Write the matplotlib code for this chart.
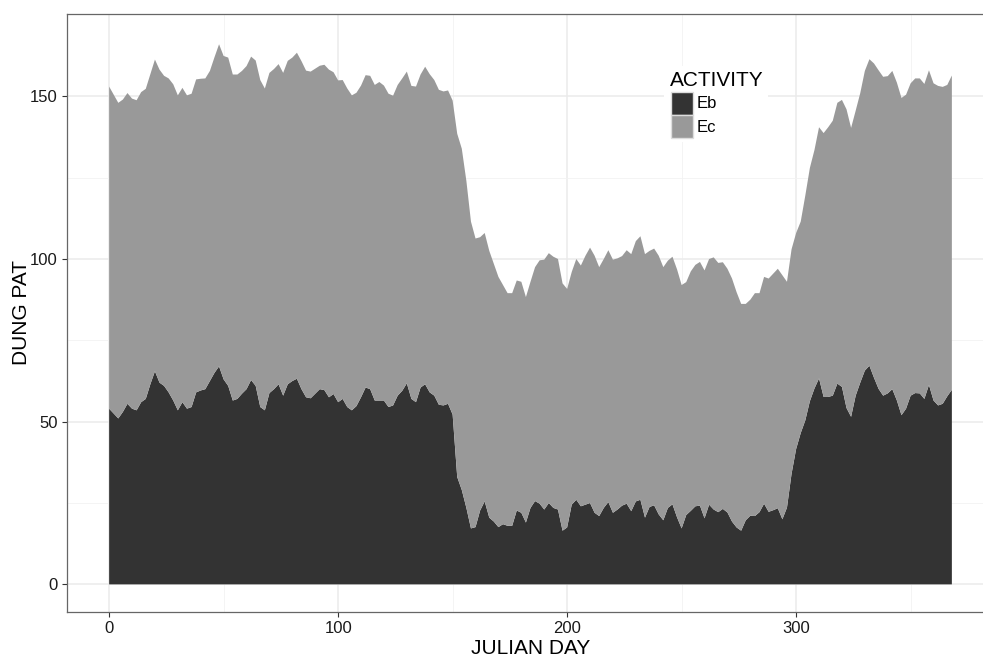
import numpy as np
import matplotlib
matplotlib.use("Agg")
import matplotlib.pyplot as plt
from matplotlib.patches import Rectangle

plt.rcParams['font.family'] = ['Liberation Sans', 'DejaVu Sans']

# ---------------- data ----------------
days = list(range(0, 369, 2))

eb = [54, 52.5, 51, 53, 55.5, 54, 53.5, 56, 57, 61.5,
      65.5, 62, 61, 59, 56.5, 53.5, 56, 54, 54.5, 59,
      59.6, 60, 62.5, 65, 67, 63, 61, 56.5, 57, 58.6,
      60, 62.8, 61, 54.5, 53.5, 58.8, 60, 61.5, 58, 61.5,
      62.5, 63.2, 60, 57.5, 57.2, 58.6, 60, 59.7, 57.5, 58.5,
      56, 57, 54.5, 53.5, 54.8, 57.5, 60.5, 60, 56.5, 56.5,
      56.5, 54.5, 55, 58, 59.5, 61.8, 57, 56, 60.5, 61.5,
      59, 58, 55.2, 55, 55.5, 52.2, 33, 29, 23.5, 17.2,
      17.6, 22.7, 25.5, 20.5, 19.3, 17.6, 18.5, 18, 18, 22.7,
      22, 19, 23.5, 25.6, 24.8, 23, 25, 23.5, 23, 16.5,
      17.5, 24.5, 26, 24, 24.5, 25, 22, 21, 23.5, 25.3,
      22, 23, 24.2, 24.8, 22.5, 25.5, 26, 20.5, 23.8, 24.3,
      21.5, 19.7, 23.5, 24.6, 20.6, 17.2, 21.3, 22.6, 24, 24.2,
      20.3, 24.5, 23, 22.2, 23.2, 22.1, 19.3, 17.5, 16.5, 19.7,
      21.1, 21, 22.2, 24.8, 22.3, 22.8, 23.4, 20, 23.6, 34,
      41.6, 46.5, 50.4, 56.3, 60.2, 63.3, 57.6, 57.6, 58, 61.7,
      60.7, 54.2, 51.5, 58, 62, 65.7, 67.2, 63.5, 60.1, 58,
      58.7, 60, 56.5, 52, 54, 58, 58.8, 58.7, 57, 61.3,
      56.5, 55, 55.5, 57.8, 59.8]

ec = [99, 98, 97, 96, 95.5, 95.3, 95.3, 95.3, 95.3, 95.3,
      95.8, 96.2, 95.3, 96.5, 97.2, 96.8, 96.6, 96.3, 96.3, 96.2,
      95.8, 95.5, 95.3, 97, 99, 99.4, 100.9, 100.2, 99.7, 99.2,
      99.3, 99.4, 100, 100.5, 98.9, 98.4, 98.4, 98.4, 99.2, 99.4,
      99.4, 100.2, 100.8, 100.4, 100.4, 99.9, 99.4, 100, 100.7, 98.9,
      98.9, 98, 97.9, 96.8, 96.3, 95.8, 96, 96.3, 97, 97.9,
      96.8, 96.3, 95.2, 95.5, 96, 95.8, 96.2, 97, 96.2, 97.6,
      97.8, 97, 96.8, 96.5, 96.3, 96.5, 105.5, 104.9, 100.5, 94.3,
      88.7, 84, 82.5, 82, 79.2, 76.9, 73.5, 71.5, 71.5, 70.7,
      71, 69.3, 69.5, 71.9, 74.8, 76.8, 76.8, 77.2, 77, 76,
      73.3, 71.5, 74, 74, 76.5, 78.5, 79, 76.5, 76.5, 77.4,
      77.8, 77.2, 76.7, 77.9, 79, 80, 81, 81, 78.7, 78.9,
      79.5, 77.8, 76, 76.1, 76.2, 74.8, 71.6, 73.6, 74.2, 74.9,
      76.2, 75.5, 77.5, 76.6, 75.8, 74.9, 74.7, 72.3, 69.7, 66.5,
      66.4, 68.5, 67.3, 69.7, 71.7, 72.7, 73.6, 75, 69.4, 69,
      66.4, 65, 69.1, 71.7, 73.3, 77.2, 81.1, 82.9, 84.5, 86.3,
      88.2, 91.8, 88.8, 87.6, 89, 92.1, 94.2, 96.6, 97.9, 98,
      97.5, 97.8, 97.7, 97.5, 96.5, 96, 96.7, 96.8, 96.8, 96.7,
      97.5, 98.2, 97.4, 95.7, 96.6]

series_names = ["Eb", "Ec"]
series_colors = ["#333333", "#999999"]
legend_title = "ACTIVITY"
x_ticks = [0, 100, 200, 300]
y_ticks = [0, 50, 100, 150]

# ---------------- figure ----------------
W, H = 983, 657
fig = plt.figure(figsize=(W / 100, H / 100), dpi=100)

left_px, right_px, top_px, bot_px = 67, 994, 14, 611.7
ax = fig.add_axes([left_px / W, 1 - bot_px / H,
                   (right_px - left_px) / W, (bot_px - top_px) / H])

polys = ax.stackplot(days, eb, ec, colors=series_colors, labels=series_names,
                     linewidth=0, zorder=2)

ax.set_xlim(-18.4, 386.4)
ax.set_ylim(-8.4, 175.3)

ax.set_xticks(x_ticks)
ax.set_yticks(y_ticks)
ax.set_xticks([50, 150, 250, 350], minor=True)
ax.set_yticks([25, 75, 125], minor=True)
ax.grid(which='major', color='#EBEBEB', linewidth=1.1, zorder=0)
ax.grid(which='minor', color='#F2F2F2', linewidth=0.6, zorder=0)
ax.set_axisbelow(True)

ax.tick_params(which='major', direction='out', length=3.5, width=0.8,
               color='#333333', labelsize=12, labelcolor='#1a1a1a', pad=3)
ax.tick_params(which='minor', length=0)

for s in ax.spines.values():
    s.set_color('#666666')
    s.set_linewidth(0.9)

ax.set_xlabel("JULIAN DAY", fontsize=15, color='black')
ax.xaxis.set_label_coords(0.5, (bot_px - 648) / (bot_px - top_px))
ax.xaxis.label.set_va('center')
ax.set_ylabel("DUNG PAT", fontsize=15, color='black')
ax.yaxis.set_label_coords((22 - left_px) / (right_px - left_px), 0.5)
ax.yaxis.label.set_va('center')

# ---------------- legend ----------------
def fx(x):
    return x / W


def fy(y):
    return 1 - y / H

fig.patches.append(Rectangle((fx(664), fy(142)), fx(768) - fx(664), fy(66) - fy(142),
                             transform=fig.transFigure, facecolor='white',
                             edgecolor='none', zorder=3))
fig.text(fx(670), fy(80), legend_title, fontsize=15, ha='left', va='center', zorder=4)
key_tops = [92, 115]
for name, col, kt in zip(series_names, series_colors, key_tops):
    fig.patches.append(Rectangle((fx(671), fy(kt + 23)), fx(693) - fx(671), fy(kt) - fy(kt + 23),
                                 transform=fig.transFigure, facecolor=col,
                                 edgecolor='#dddddd', linewidth=1.0, zorder=4))
    fig.text(fx(697), fy(kt + 12), name, fontsize=12, ha='left', va='center', zorder=5)

fig.savefig("out.png", dpi=100)
